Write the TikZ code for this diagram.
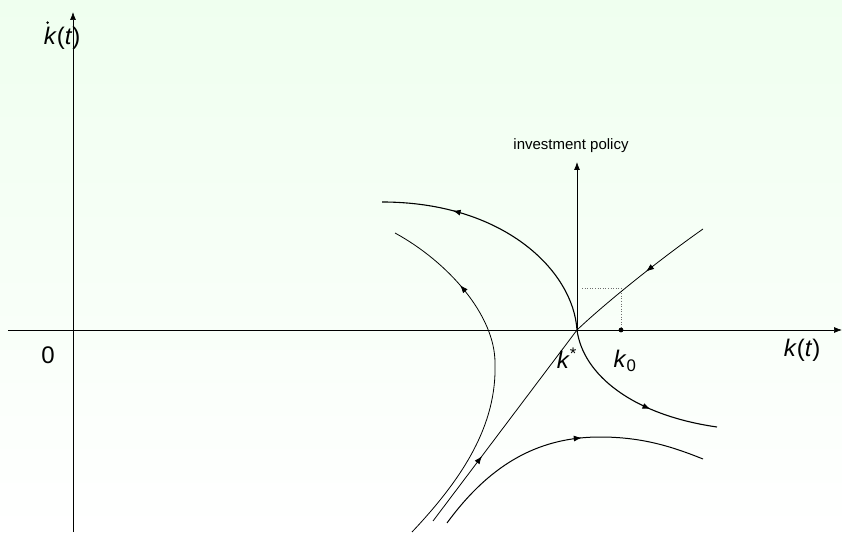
\documentclass[tikz,border=0pt]{standalone}
\usepackage{fontspec}
\setmainfont{Liberation Sans}
\usepackage{tikz}
\usetikzlibrary{arrows.meta,decorations.markings}
\definecolor{slidetop}{RGB}{239,255,239}
\definecolor{slidebot}{RGB}{255,255,255}
\definecolor{guidegray}{RGB}{110,110,110}
\tikzset{
  axis/.style={-{Latex[length=8pt,width=6pt]}, line width=0.7pt},
  traj/.style={line width=0.8pt},
  unstable/.style={line width=1.1pt},
  flowmark/.style={postaction={decorate}, decoration={markings,
      mark=at position #1 with {\arrow{Latex[length=8pt,width=6pt]}}}},
  guide/.style={dotted, draw=guidegray, line width=0.6pt},
  lbl/.style={font=\fontsize{24}{28}\selectfont, inner sep=0pt},
  smalllbl/.style={font=\fontsize{15}{18}\selectfont, inner sep=0pt},
}

\begin{document}
\begin{tikzpicture}[x=1pt,y=1pt]

% slide background
\fill[top color=slidetop, bottom color=slidebot] (-73,-202) rectangle (769,330);
\useasboundingbox (-73,-202) rectangle (769,330);

\coordinate (o)     at (0,0);
\coordinate (kstar) at (504,0);
\coordinate (kzero) at (548,0);
\coordinate (corner) at (548,42);

% axes
\draw[axis] (-65,0) -- (769,0) coordinate (xend);
\draw[axis] (0,-202) -- (0,318) coordinate (yend);
\node[lbl] (xlab) at (729,-20) {\textit{k}(\textit{t})};
\node[lbl] (ylab) at (-11,292) {\textit{k}(\textit{t})};
\fill ([xshift=4pt,yshift=4pt]ylab.north west) circle (1.4pt); % time derivative dot
\node[lbl] (zero) at (-25,-25) {0};

% investment policy
\draw[axis, line width=0.8pt] (kstar) -- (504,168) coordinate (inv);
\node[smalllbl] (invlab) at (498,184) {investment policy};

% dotted guides to k0
\draw[guide] (509,42) -- (corner);
\draw[guide] (corner) -- (kzero);
\fill (kzero) circle (2.4pt);
\node[lbl] (kslab) at (494,-28) {\textit{k}\textsuperscript{*}};
\node[lbl] (k0lab) at (552,-31) {\textit{k}\textsubscript{0}};

% stable arm
\draw[traj, flowmark=0.34] (360,-191) -- (kstar);
\draw[traj, flowmark=0.44] (630,101) .. controls (590,73) and (534,28.5) .. (kstar);

% unstable arm
\draw[unstable, flowmark=0.72] (kstar) .. controls (500,60) and (430,128) .. (309,128);
\draw[unstable, flowmark=0.62] (kstar) .. controls (510,-45) and (560,-85) .. (644,-97);

% other trajectories
\draw[traj, flowmark=0.77] (339,-202) .. controls (390,-148) and (424,-95) .. (422,-33)
  .. controls (422,15) and (375,68) .. (322,97);
\draw[traj, line width=1pt, flowmark=0.57] (374,-193) .. controls (420,-130) and (470,-107) .. (527,-107)
  .. controls (570,-107) and (600,-117) .. (630,-129);

\end{tikzpicture}
\end{document}
